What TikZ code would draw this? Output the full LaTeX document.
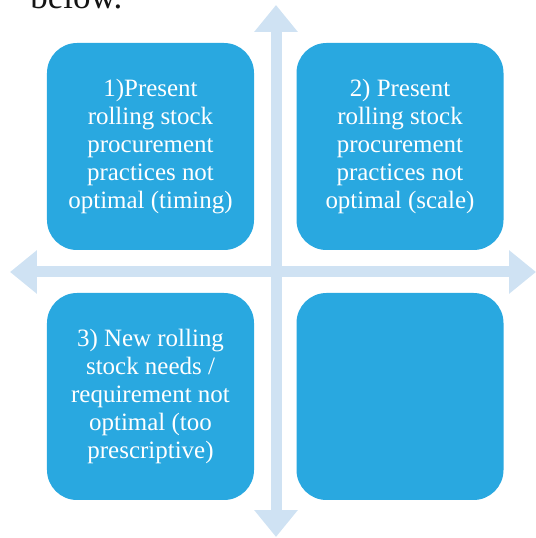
\documentclass[tikz,border=0pt]{standalone}
\usepackage{fontspec}
\setmainfont{Liberation Serif}
\usepackage{tikz}
\usetikzlibrary{arrows.meta}
\definecolor{boxcolor}{RGB}{41, 168, 224}
\definecolor{crosscolor}{RGB}{207, 226, 243}
\definecolor{bodytext}{RGB}{20, 20, 20}
\tikzset{
quadbox/.style={
  rectangle,
  rounded corners=0.6cm,
  fill=boxcolor,
  minimum width=4.14cm,
  minimum height=4.14cm,
  align=center,
  text=white,
  font=\fontsize{14.2}{15.9}\selectfont
},
crossarrow/.style={
  {Triangle[length=0.54cm,width=0.84cm]}-{Triangle[length=0.54cm,width=0.84cm]},
  line width=0.22cm,
  draw=crosscolor
}
}
\begin{document}
\begin{tikzpicture}[
    bodylabel/.style={font=\fontsize{19.9}{22}\selectfont, text=bodytext, inner sep=0pt}
]
\clip (0,0) rectangle (10.72,10.76);

% ============================================================================
% TEXTO ANTERIOR (cortado)
% ============================================================================
\node[bodylabel, anchor=base west] (below_text) at (0.6, 10.58) {below.};

% ============================================================================
% CRUZ DE SETAS
% ============================================================================
\coordinate (cross_top) at (5.52, 10.66);
\coordinate (cross_bottom) at (5.52, 0.02);
\coordinate (cross_left) at (0.20, 5.32);
\coordinate (cross_right) at (10.72, 5.32);

\draw[crossarrow] (cross_bottom) -- (cross_top);
\draw[crossarrow] (cross_left) -- (cross_right);

% ============================================================================
% QUADRANTES
% ============================================================================
\node[quadbox] (quad_tl) at (3.01, 7.83) {1)Present\\rolling stock\\procurement\\practices not\\optimal (timing)};
\node[quadbox] (quad_tr) at (8.00, 7.83) {2) Present\\rolling stock\\procurement\\practices not\\optimal (scale)};
\node[quadbox] (quad_bl) at (3.01, 2.83) {3) New rolling\\stock needs /\\requirement not\\optimal (too\\prescriptive)};
\node[quadbox] (quad_br) at (8.00, 2.83) {};

\end{tikzpicture}
\end{document}
